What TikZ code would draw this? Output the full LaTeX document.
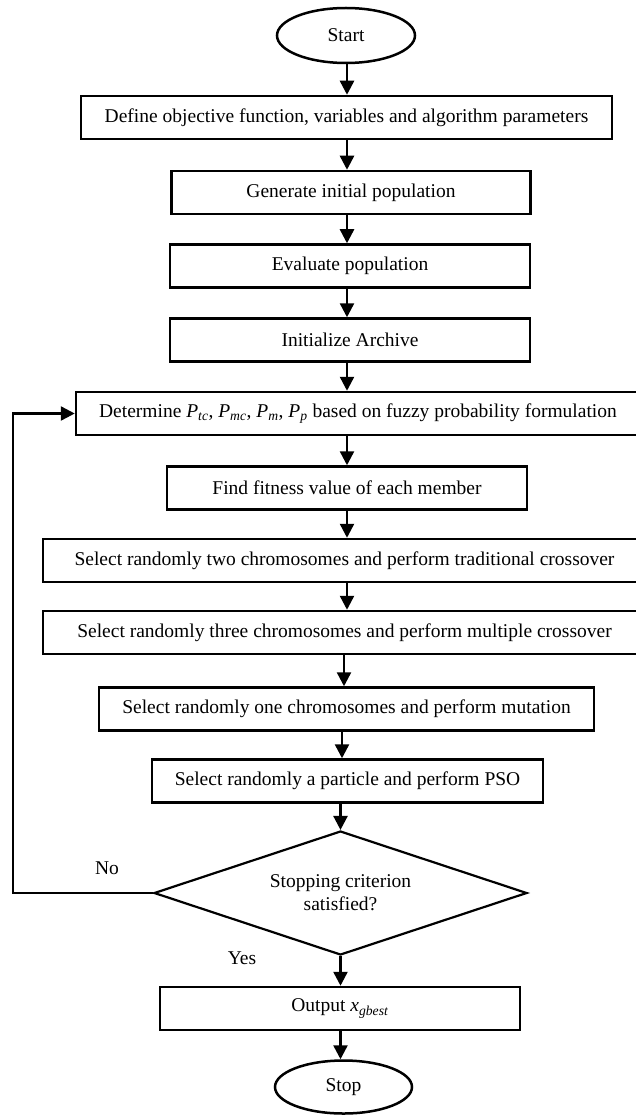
\documentclass[tikz,border=0pt]{standalone}
\usepackage{fontspec}
\setmainfont{Liberation Serif}
\usetikzlibrary{shapes.geometric,arrows.meta,calc}
\newcommand{\pvar}[2]{\textit{#1}\textsubscript{\textit{#2}}}
\begin{document}
\begin{tikzpicture}[x=1pt,y=-1pt,
  every node/.style={font=\fontsize{19.5}{23}\selectfont},
  box/.style={draw, line width=2.5pt, minimum height=43pt, inner sep=0pt},
  term/.style={ellipse, draw, line width=2.5pt, inner sep=0pt},
  decision/.style={diamond, draw, line width=2.2pt, inner sep=0pt, aspect=3, align=center},
  arr/.style={line width=2.5pt, -{Triangle[width=14pt,length=14pt]}},
  lbl/.style={inner sep=0pt}]
\useasboundingbox (0,0) rectangle (636,1115);
\fill[white] (0,0) rectangle (636,1115);

\coordinate (axA) at (347,0);
\coordinate (axB) at (344,0);
\coordinate (axC) at (342,0);
\coordinate (loopx) at (13,0);

\node[term, minimum width=138pt, minimum height=55pt] (start) at (346,35.5) {Start};
\node[box, minimum width=531pt] (def) at (346.5,117.5) {Define objective function, variables and algorithm parameters};
\node[box, minimum width=359pt] (gen) at (351,192.5) {Generate initial population};
\node[box, minimum width=360pt] (eval) at (350,266) {Evaluate population};
\node[box, minimum width=360pt] (init) at (350,340) {Initialize Archive};
\node[box, minimum width=564pt] (det) at (358,413.5) {Determine \pvar{P}{tc}, \pvar{P}{mc}, \pvar{P}{m}, \pvar{P}{p} based on fuzzy probability formulation};
\node[box, minimum width=360pt] (fit) at (347,488) {Find fitness value of each member};
\node[box, minimum width=597pt] (two) at (341.5,560.5) {\hspace*{6pt}Select randomly two chromosomes and perform traditional crossover};
\node[box, minimum width=597pt] (three) at (341.5,632.5) {\hspace*{6pt}Select randomly three chromosomes and perform multiple crossover};
\node[box, minimum width=495pt] (one) at (346.5,709) {Select randomly one chromosomes and perform mutation};
\node[box, minimum width=391pt] (pso) at (347.5,781) {Select randomly a particle and perform PSO};
\node[decision, minimum width=373pt, minimum height=124pt] (dec) at (340.5,893) {Stopping criterion\\satisfied?};
\node[box, minimum width=360pt] (out) at (340,1008.5) {Output \pvar{x}{gbest}};
\node[term, minimum width=137pt, minimum height=53pt] (stop) at (343.5,1087) {Stop};

\node[lbl] (no) at (107,868) {No};
\node[lbl] (yes) at (242,958) {Yes};

\draw[arr] (start.south -| axA) -- (def.north -| axA);
\draw[arr] (def.south -| axA) -- (gen.north -| axA);
\draw[arr] (gen.south -| axA) -- (eval.north -| axA);
\draw[arr] (eval.south -| axA) -- (init.north -| axA);
\draw[arr] (init.south -| axA) -- (det.north -| axA);
\draw[arr] (det.south -| axA) -- (fit.north -| axA);
\draw[arr] (fit.south -| axA) -- (two.north -| axA);
\draw[arr] (two.south -| axA) -- (three.north -| axA);
\draw[arr] (three.south -| axB) -- (one.north -| axB);
\draw[arr] (one.south -| axC) -- (pso.north -| axC);
\draw[arr] (pso.south -| dec.north) -- (dec.north);
\draw[arr] (dec.south) -- (out.north -| dec.south);
\draw[arr] (out.south -| dec.south) -- (stop.north -| dec.south);
\draw[arr] (dec.west) -- (dec.west -| loopx) |- (det.west);
\end{tikzpicture}
\end{document}
